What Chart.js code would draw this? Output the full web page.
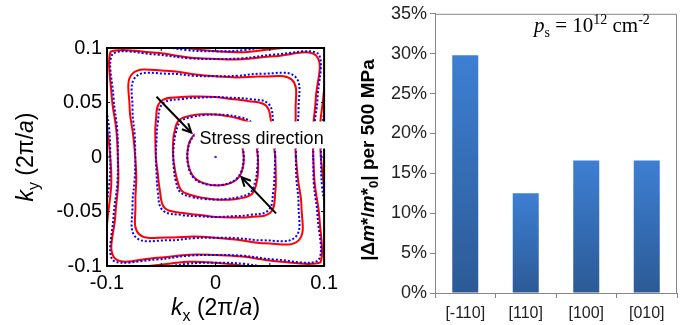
<!DOCTYPE html>
<html lang="en">
<head>
<meta charset="utf-8">
<script src="https://cdn.jsdelivr.net/npm/chart.js@4.4.1/dist/chart.umd.min.js"></script>
<style>
  html, body { margin: 0; padding: 0; background: #fff; }
  #wrap { display: flex; width: 686px; height: 325px; }
  canvas { display: block; }
</style>
</head>
<body>
<div id="wrap">
  <canvas id="contours" width="343" height="325"></canvas>
  <canvas id="bars" width="343" height="325"></canvas>
</div>

<script>
    // left panel: constant-energy contours, radius in units of 2pi/a read every 15 degrees
    const angles = [0, 15, 30, 45, 60, 75, 90, 105, 120, 135, 150, 165,
                    180, 195, 210, 225, 240, 255, 270, 285, 300, 315, 330, 345];

    // red = with stress (solid), blue = without stress (dotted)
    const red1  = [.026,.026,.0267,.0272,.0267,.026,.026,.0266,.0277,.0284,.0277,.0266, .026,.026,.0267,.0272,.0267,.026,.026,.0266,.0277,.0284,.0277,.0266];
    const blue1 = [.026,.0263,.0272,.0278,.0272,.0263, .026,.0263,.0272,.0278,.0272,.0263, .026,.0263,.0272,.0278,.0272,.0263, .026,.0263,.0272,.0278,.0272,.0263];
    const red2  = [.039,.039,.041,.044,.041,.039,.039,.0406,.044,.0476,.044,.0406, .039,.039,.041,.044,.041,.039,.039,.0406,.044,.0476,.044,.0406];
    const blue2 = [.039,.0398,.0425,.0458,.0425,.0398, .039,.0398,.0425,.0458,.0425,.0398, .039,.0398,.0425,.0458,.0425,.0398, .039,.0398,.0425,.0458,.0425,.0398];
    const red3  = [.055,.0552,.0594,.0662,.0594,.0552,.055,.0574,.0636,.0718,.0636,.0574, .055,.0552,.0594,.0662,.0594,.0552,.055,.0574,.0636,.0718,.0636,.0574];
    const blue3 = [.055,.0563,.0615,.069,.0615,.0563, .055,.0563,.0615,.069,.0615,.0563, .055,.0563,.0615,.069,.0615,.0563, .055,.0563,.0615,.069,.0615,.0563];
    const red4  = [.074,.0756,.0852,.0998,.0852,.0756,.074,.0786,.0914,.1082,.0914,.0786, .074,.0756,.0852,.0998,.0852,.0756,.074,.0786,.0914,.1082,.0914,.0786];
    const blue4 = [.074,.0771,.0883,.104,.0883,.0771, .074,.0771,.0883,.104,.0883,.0771, .074,.0771,.0883,.104,.0883,.0771, .074,.0771,.0883,.104,.0883,.0771];
    const red5  = [.090,.0928,.1066,.1313,.1066,.0928,.090,.0946,.1104,.1367,.1104,.0946, .090,.0928,.1066,.1313,.1066,.0928,.090,.0946,.1104,.1367,.1104,.0946];
    const blue5 = [.090,.0937,.1085,.134,.1085,.0937, .090,.0937,.1085,.134,.1085,.0937, .090,.0937,.1085,.134,.1085,.0937, .090,.0937,.1085,.134,.1085,.0937];
    const red6  = [.097,.0995,.1149,.144,.1149,.0995,.097,.1035,.1231,.156,.1231,.1035, .097,.0995,.1149,.144,.1149,.0995,.097,.1035,.1231,.156,.1231,.1035];
    const blue6 = [.097,.1015,.119,.150,.119,.1015, .097,.1015,.119,.150,.119,.1015, .097,.1015,.119,.150,.119,.1015, .097,.1015,.119,.150,.119,.1015];

    // stress direction arrows: [x0, y0, x1, y1] (tail -> head)
    const arrows = [[-0.0544, 0.0553, -0.0223, 0.0223], [0.0557, -0.0517, 0.0239, -0.0186]];
    const stressLabel = "Stress direction";

    // right panel
    const directions = ["[-110]", "[110]", "[100]", "[010]"];
    const massChange = [29.8, 12.5, 16.6, 16.6]; // |dm*/m*0| per 500 MPa, %

    const SANS = '"Liberation Sans", Arial, sans-serif';
    const SERIF = '"Liberation Serif", "Times New Roman", serif';
    Chart.defaults.font.family = SANS;

    function loop(radii) {
        const pts = radii.map((r, i) => {
            const a = angles[i] * Math.PI / 180;
            return {x: r * Math.cos(a), y: r * Math.sin(a)};
        });
        pts.push(pts[0]);
        return pts;
    }

    function drawRuns(ctx, runs, x, y, center) {
        let total = 0;
        runs.forEach(r => { ctx.font = r.f; r.w = ctx.measureText(r.t).width; total += r.w; });
        let cx = center ? x - total / 2 : x;
        runs.forEach(r => { ctx.font = r.f; ctx.fillText(r.t, cx, y + (r.dy || 0)); cx += r.w; });
    }

    const datasets = [];
    [[red1, blue1], [red2, blue2], [red3, blue3], [red4, blue4], [red5, blue5], [red6, blue6]].forEach(([r, b]) => {
        datasets.push({data: loop(b), showLine: true, borderColor: "#0000ff", borderWidth: 2,
                       borderDash: [2, 2], tension: 0.4, pointRadius: 0, order: 0});
        datasets.push({data: loop(r), showLine: true, borderColor: "#ff0000", borderWidth: 2,
                       tension: 0.4, pointRadius: 0, order: 1});
    });
    datasets.push({data: [{x: 0, y: 0}], pointRadius: 1.3, pointBackgroundColor: "#3030ff",
                   pointBorderWidth: 0, order: 0});

    const leftDecor = {
        id: "leftDecor",
        afterDatasetsDraw(chart) {
            const {ctx, chartArea: a, scales: {x, y}} = chart;
            ctx.save();
            ctx.strokeStyle = "#000";
            ctx.lineWidth = 1;
            // MATLAB style inward ticks
            [-0.1, -0.05, 0, 0.05, 0.1].forEach(v => {
                const py = y.getPixelForValue(v);
                ctx.beginPath();
                ctx.moveTo(a.left, py); ctx.lineTo(a.left + 3, py);
                ctx.moveTo(a.right, py); ctx.lineTo(a.right - 3, py);
                ctx.stroke();
            });
            [-0.1, -0.05, 0, 0.05, 0.1].forEach(v => {
                const px = x.getPixelForValue(v);
                ctx.beginPath();
                ctx.moveTo(px, a.bottom); ctx.lineTo(px, a.bottom - 3);
                ctx.moveTo(px, a.top); ctx.lineTo(px, a.top + 3);
                ctx.stroke();
            });
            ctx.lineWidth = 2;
            ctx.strokeRect(a.left, a.top, a.right - a.left, a.bottom - a.top);

            // label with white box
            const tx = x.getPixelForValue(-0.0147), ty = y.getPixelForValue(0.0119);
            ctx.font = "18px " + SANS;
            const w = ctx.measureText(stressLabel).width;
            ctx.fillStyle = "#fff";
            ctx.fillRect(tx - 5, ty - 22.5, w + 10, 27);
            ctx.fillStyle = "#000";
            ctx.textBaseline = "alphabetic";
            ctx.fillText(stressLabel, tx, ty);

            // arrows
            ctx.strokeStyle = "#000";
            ctx.lineWidth = 2;
            arrows.forEach(([x0, y0, x1, y1]) => {
                const p0 = [x.getPixelForValue(x0), y.getPixelForValue(y0)];
                const p1 = [x.getPixelForValue(x1), y.getPixelForValue(y1)];
                const ang = Math.atan2(p1[1] - p0[1], p1[0] - p0[0]);
                ctx.beginPath();
                ctx.moveTo(p0[0], p0[1]);
                ctx.lineTo(p1[0], p1[1]);
                ctx.stroke();
                ctx.beginPath();
                ctx.moveTo(p1[0] - 10 * Math.cos(ang - 0.45), p1[1] - 10 * Math.sin(ang - 0.45));
                ctx.lineTo(p1[0], p1[1]);
                ctx.lineTo(p1[0] - 10 * Math.cos(ang + 0.45), p1[1] - 10 * Math.sin(ang + 0.45));
                ctx.stroke();
            });
            ctx.restore();
        },
        afterDraw(chart) {
            const {ctx, chartArea: a} = chart;
            const cx = (a.left + a.right) / 2, cy = (a.top + a.bottom) / 2;
            const big = "23px " + SANS, it = "italic 23px " + SANS, sub = "16px " + SANS;
            ctx.save();
            ctx.fillStyle = "#000";
            ctx.textBaseline = "alphabetic";
            drawRuns(ctx, [{t: "k", f: it}, {t: "x", f: sub, dy: 6}, {t: " (2\u03c0/", f: big},
                           {t: "a", f: it}, {t: ")", f: big}], cx, 315, true);
            ctx.translate(33, cy);
            ctx.rotate(-Math.PI / 2);
            drawRuns(ctx, [{t: "k", f: it}, {t: "y", f: sub, dy: 6}, {t: " (2\u03c0/", f: big},
                           {t: "a", f: it}, {t: ")", f: big}], 0, 0, true);
            ctx.restore();
        }
    };

    const tickFmt = v => String(Math.round(v * 100) / 100);

    new Chart(document.getElementById("contours"), {
        type: "scatter",
        data: {datasets: datasets},
        options: {
            responsive: false,
            animation: false,
            layout: {padding: {top: 48, right: 18, left: 0, bottom: 0}},
            plugins: {legend: {display: false}, tooltip: {enabled: false}},
            scales: {
                x: {
                    min: -0.1, max: 0.1,
                    ticks: {stepSize: 0.1, callback: tickFmt, color: "#000", padding: 5,
                            font: {size: 20}, maxRotation: 0},
                    grid: {display: false, drawTicks: false},
                    border: {display: false},
                    afterFit(s) { s.height = 59; }
                },
                y: {
                    min: -0.1, max: 0.1,
                    ticks: {stepSize: 0.05, callback: tickFmt, color: "#000", padding: 5,
                            font: {size: 20}},
                    grid: {display: false, drawTicks: false},
                    border: {display: false},
                    afterFit(s) { s.width = 107; }
                }
            }
        },
        plugins: [leftDecor]
    });

    // right panel
    function barFill(c) {
        const chart = c.chart, ys = chart.scales.y;
        if (!chart.chartArea || !ys || !c.parsed) return "#3a76c4";
        const top = ys.getPixelForValue(c.parsed.y), base = ys.getPixelForValue(0);
        const g = chart.ctx.createLinearGradient(0, top, 0, base);
        g.addColorStop(0, "#3d7fd3");
        g.addColorStop(1, "#2c5a96");
        return g;
    }

    const rightDecor = {
        id: "rightDecor",
        afterDraw(chart) {
            const {ctx, chartArea: a} = chart;
            ctx.save();
            ctx.strokeStyle = "#868686";
            ctx.lineWidth = 1;
            ctx.beginPath();
            ctx.moveTo(a.left, a.top + 0.5);
            ctx.lineTo(a.right - 0.5, a.top + 0.5);
            ctx.lineTo(a.right - 0.5, a.bottom);
            ctx.stroke();

            ctx.fillStyle = "#000";
            ctx.textBaseline = "alphabetic";
            const n = "21px " + SERIF, s = "14px " + SERIF;
            drawRuns(ctx, [{t: "p", f: "italic 21px " + SERIF}, {t: "s", f: s, dy: 5},
                           {t: " = 10", f: n}, {t: "12", f: s, dy: -8},
                           {t: " cm", f: n}, {t: "-2", f: s, dy: -8}], a.right - 143, 32, false);

            const b = "bold 19px " + SANS, bi = "italic bold 19px " + SANS;
            ctx.fillStyle = "#000";
            ctx.translate(31, 160);
            ctx.rotate(-Math.PI / 2);
            drawRuns(ctx, [{t: "|\u0394", f: b}, {t: "m", f: bi}, {t: "*/", f: b}, {t: "m", f: bi},
                           {t: "*", f: b}, {t: "0", f: "bold 13px " + SANS, dy: 4},
                           {t: "| per 500 MPa", f: b}], 0, 0, true);
            ctx.restore();
        }
    };

    new Chart(document.getElementById("bars"), {
        type: "bar",
        data: {
            labels: directions,
            datasets: [{
                data: massChange,
                backgroundColor: barFill,
                borderWidth: 0,
                barPercentage: 0.43,
                categoryPercentage: 1
            }]
        },
        options: {
            responsive: false,
            animation: false,
            layout: {padding: {top: 10, right: 9, left: 0, bottom: 0}},
            plugins: {legend: {display: false}, tooltip: {enabled: false}},
            scales: {
                x: {
                    grid: {drawOnChartArea: false, tickLength: 5, color: "#868686"},
                    border: {color: "#868686"},
                    ticks: {color: "#222", padding: 6, font: {size: 16}},
                    afterFit(s) { s.height = 32; }
                },
                y: {
                    min: 0, max: 35,
                    grid: {drawOnChartArea: false, tickLength: 5, color: "#868686"},
                    border: {color: "#868686"},
                    ticks: {stepSize: 5, callback: v => v + "%", color: "#222", padding: 3,
                            font: {size: 18}},
                    afterFit(s) { s.width = 92; }
                }
            }
        },
        plugins: [rightDecor]
    });
</script>
</body>
</html>
